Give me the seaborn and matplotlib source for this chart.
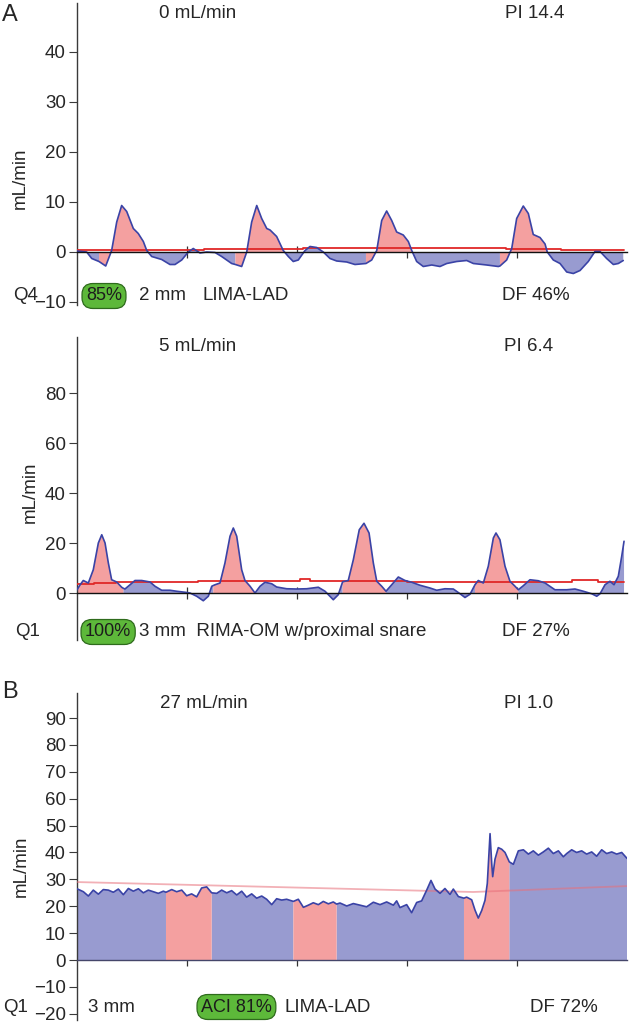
import numpy as np
import seaborn as sns
import matplotlib.pyplot as plt

# ---- panel A (top): LIMA-LAD, Q4 ----
t_a1 = [0.0, 0.088, 0.134, 0.2, 0.261, 0.315, 0.361, 0.406, 0.452, 0.512, 0.557, 0.603, 0.634,
        0.679, 0.77, 0.845, 0.891, 0.952, 1.012, 1.057, 1.118, 1.179, 1.255, 1.315, 1.406, 1.44,
        1.497, 1.543, 1.588, 1.634, 1.679, 1.725, 1.755, 1.815, 1.875,
        1.921, 1.966, 2.012, 2.073, 2.118, 2.179, 2.239, 2.3, 2.361, 2.452, 2.527, 2.627,
        2.679, 2.725, 2.77, 2.815, 2.861, 2.906, 2.966, 3.012, 3.043,
        3.088, 3.148, 3.225, 3.3, 3.361, 3.452, 3.543, 3.603, 3.725, 3.83, 3.845,
        3.906, 3.952, 3.997, 4.057, 4.103, 4.148, 4.209, 4.255, 4.275,
        4.33, 4.391, 4.452, 4.512, 4.573, 4.648, 4.709, 4.755, 4.815, 4.876, 4.921, 4.966]
v_a1 = [0.2, 0.0, -1.3, -1.9, -2.8, 0.3, 6.0, 9.3, 8.1, 4.7, 3.7, 2.1, 0.3,
        -0.9, -1.5, -2.5, -2.5, -1.6, 0.0, 0.7, -0.2, 0.0, -0.1, -0.9, -2.3, -2.5,
        -2.9, 0.0, 6.0, 9.3, 6.7, 4.7, 4.4, 3.1, 0.3,
        -0.9, -1.9, -1.6, 0.3, 1.1, 0.9, 0.0, -1.3, -1.8, -2.0, -2.5, -2.3,
        -1.6, 0.3, 6.3, 8.2, 6.3, 4.0, 3.4, 2.1, 0.3,
        -1.9, -2.9, -2.6, -2.9, -2.3, -1.9, -1.7, -2.3, -2.6, -2.9, -2.8,
        -1.6, 0.7, 6.7, 9.2, 7.7, 3.5, 2.9, 1.6, 0.0,
        -1.6, -2.3, -4.0, -4.3, -3.7, -1.9, 0.1, 0.1, -1.3, -2.5, -2.3, -1.7]
systole_a1 = [(0.2, 0.634), (1.44, 1.875), (2.627, 3.043), (3.845, 4.275)]
mean_t_a1 = [0.0, 1.15, 2.05, 2.7, 3.9, 4.4, 4.97]
mean_v_a1 = [0.4, 0.7, 0.9, 0.8, 0.6, 0.5, 0.5]

# ---- panel A (bottom): RIMA-OM w/proximal snare, Q1 ----
t_a2 = [0.0, 0.027, 0.057, 0.103, 0.148, 0.194, 0.225, 0.255, 0.285, 0.315, 0.361, 0.406, 0.421,
        0.436, 0.482, 0.527, 0.588, 0.664, 0.709, 0.77, 0.845, 0.906, 0.982, 1.027, 1.088, 1.148,
        1.194, 1.225, 1.239,
        1.255, 1.3, 1.345, 1.391, 1.421, 1.452, 1.497, 1.527, 1.573, 1.618,
        1.664, 1.709, 1.77, 1.815, 1.906, 1.997, 2.088, 2.194, 2.255, 2.33, 2.375, 2.415,
        2.466, 2.512, 2.566, 2.609, 2.655, 2.694, 2.725, 2.77, 2.809,
        2.861, 2.921, 2.982, 3.043, 3.118, 3.209, 3.27, 3.345, 3.421, 3.482, 3.527, 3.573, 3.618,
        3.648, 3.694, 3.739, 3.785, 3.809, 3.845, 3.891, 3.936, 3.982, 4.012,
        4.057, 4.118, 4.194, 4.255, 4.345, 4.452, 4.527, 4.603, 4.679, 4.725, 4.755, 4.8, 4.845,
        4.882, 4.921, 4.952, 4.973]
v_a2 = [1.3, 3.2, 5.0, 4.0, 9.3, 20.0, 23.3, 20.0, 12.0, 5.3, 4.4, 2.3, 1.9,
        1.6, 3.3, 5.0, 5.0, 4.4, 2.7, 1.1, 1.1, 0.7, 0.3, 0.0, -1.3, -3.1,
        -1.3, 2.7, 3.0,
        3.3, 4.0, 12.0, 22.7, 26.0, 22.7, 9.3, 5.0, 2.7, 0.0,
        2.7, 4.3, 3.7, 2.4, 1.7, 1.6, 1.7, 2.3, 0.7, -2.7, -0.7, 4.5,
        5.0, 13.3, 25.3, 27.9, 24.0, 12.0, 4.7, 2.7, 0.7,
        3.3, 6.4, 5.0, 4.3, 3.1, 2.0, 1.1, 1.7, 1.6, -0.3, -1.8, -0.5, 3.3,
        5.0, 4.0, 10.7, 22.0, 24.0, 21.3, 10.7, 4.7, 2.7, 1.3,
        2.9, 5.3, 4.9, 4.0, 1.3, 1.3, 1.6, 0.7, -0.3, -1.3, -0.3, 3.3, 4.7,
        3.3, 6.7, 14.7, 20.7]
systole_a2 = [(0.0, 0.421), (1.239, 1.618), (2.415, 2.809), (3.618, 4.012)]
mean_t_a2 = [0.0, 0.15, 0.35, 1.1, 2.03, 2.12, 3.0, 4.5, 4.74, 4.97]
mean_v_a2 = [3.6, 4.0, 4.4, 5.0, 5.8, 5.0, 4.6, 5.2, 4.4, 4.4]

# ---- panel B: LIMA-LAD, ACI 81% ----
t_b = [0.0, 0.058, 0.103, 0.148, 0.194, 0.239, 0.285, 0.33, 0.376, 0.421, 0.467, 0.512, 0.558,
       0.603, 0.648, 0.694, 0.739, 0.785, 0.809,
       0.861, 0.906, 0.952, 0.997, 1.042, 1.088, 1.133, 1.179, 1.224,
       1.27, 1.315, 1.361, 1.406, 1.452, 1.497, 1.542, 1.588, 1.633, 1.679, 1.724, 1.77, 1.815,
       1.861, 1.906, 1.967,
       2.012, 2.058, 2.103, 2.148, 2.194, 2.239, 2.285, 2.33, 2.36,
       2.391, 2.452, 2.512, 2.573, 2.633, 2.694, 2.755, 2.815, 2.876, 2.906, 2.936, 2.997, 3.042,
       3.088, 3.133, 3.179, 3.218, 3.255, 3.3, 3.345, 3.391, 3.421, 3.467, 3.518,
       3.542, 3.588, 3.618, 3.648, 3.679, 3.709, 3.73, 3.755, 3.77, 3.779, 3.8, 3.83, 3.861,
       3.891, 3.93,
       3.967, 4.012, 4.058, 4.103, 4.148, 4.194, 4.239, 4.285, 4.33, 4.376, 4.421, 4.452, 4.497,
       4.542, 4.588, 4.633, 4.679, 4.724, 4.77, 4.815, 4.861, 4.906, 4.952, 5.0]
v_b = [26.5, 25.4, 23.8, 26.0, 24.5, 26.2, 26.0, 25.2, 26.4, 24.3, 26.6, 25.6, 26.5,
       25.0, 26.0, 25.4, 24.8, 25.6, 25.2,
       26.2, 25.4, 26.0, 23.9, 24.6, 23.5, 26.8, 27.2, 25.0,
       24.8, 26.0, 25.0, 25.8, 24.2, 25.6, 23.4, 24.6, 23.0, 23.8, 22.6, 20.6, 22.8,
       22.3, 22.6, 21.8,
       22.6, 19.6, 20.4, 21.3, 20.6, 21.8, 20.9, 21.6, 20.8,
       21.2, 20.1, 21.0, 20.4, 19.8, 21.5, 20.6, 21.6, 20.4, 22.0, 19.5, 20.6, 17.6,
       21.4, 22.0, 26.0, 29.6, 26.4, 24.8, 26.6, 24.4, 26.4, 23.6, 23.0,
       23.4, 22.4, 18.6, 15.6, 18.4, 22.2, 28.5, 47.0, 36.0, 31.0, 37.5, 41.8, 41.2,
       40.0, 36.5,
       35.6, 40.6, 41.0, 39.4, 40.6, 39.0, 40.2, 41.6, 39.6, 40.6, 38.4, 39.6, 41.0,
       40.0, 40.6, 39.4, 40.2, 38.6, 41.0, 39.6, 40.2, 39.4, 40.0, 37.8]
systole_b = [(0.809, 1.224), (1.967, 2.36), (3.518, 3.93)]
mean_t_b = [0.0, 3.6, 5.0]
mean_v_b = [29.0, 25.3, 27.5]

PINK = '#F4A0A0'
BLUE = '#989BD0'
TRACE = '#3A43A6'
W, H = 634, 1023

sns.set_style("white")
plt.rcParams['font.family'] = ['Liberation Sans', 'DejaVu Sans']
plt.rcParams['axes.unicode_minus'] = True

fig = plt.figure(figsize=(W / 100, H / 100), dpi=100)


def ftext(x, y, s, **kw):
    kw.setdefault('fontsize', 13.5)
    kw.setdefault('va', 'center')
    return fig.text(x / W, 1 - y / H, s, **kw)


def badge(x, y, s):
    ftext(x, y, s, ha='left', color='#1c1c1c', fontsize=13,
          bbox=dict(boxstyle='round,pad=0.22,rounding_size=0.6', fc='#5DB83A', ec='#2E6B1C', lw=0.9))


def draw_panel(rect, t, v, spans, mt, mv, ylim, yticks, mean_color, mean_alpha, mean_steps, axis_color):
    ax = fig.add_axes(rect)
    t = np.asarray(t)
    v = np.asarray(v)
    in_sys = np.zeros(len(t), dtype=bool)
    inside = np.zeros(len(t), dtype=bool)
    for a, b in spans:
        in_sys |= (t >= a) & (t <= b)
        inside |= (t > a) & (t < b)
    ax.fill_between(t, v, 0, where=~inside, color=BLUE, lw=0, interpolate=False)
    ax.fill_between(t, v, 0, where=in_sys, color=PINK, lw=0, interpolate=False)
    sns.lineplot(x=mt, y=mv, ax=ax, color=mean_color, alpha=mean_alpha, lw=1.3,
                 drawstyle='steps-post' if mean_steps else 'default', zorder=3)
    sns.lineplot(x=t, y=v, ax=ax, color=TRACE, lw=1.2, sort=False, estimator=None, zorder=4)
    ax.set_xlim(0, 5)
    ax.set_ylim(*ylim)
    ax.set_yticks(yticks)
    ax.set_xticks([1, 2, 3, 4])
    ax.set_xticklabels([])
    ax.set_xlabel('')
    ax.set_ylabel('')
    ax.spines['top'].set_visible(False)
    ax.spines['right'].set_visible(False)
    ax.spines['left'].set_color('#3a3a3a')
    ax.spines['left'].set_linewidth(1.0)
    ax.spines['bottom'].set_position(('data', 0))
    ax.spines['bottom'].set_color(axis_color)
    ax.spines['bottom'].set_linewidth(1.0)
    ax.spines['bottom'].set_zorder(5)
    ax.tick_params(axis='y', direction='out', length=6, width=0.8, color='#3a3a3a',
                   labelsize=13.5, pad=2, left=True)
    ax.tick_params(axis='x', direction='inout', length=9, width=0.9, color='#333333', bottom=True)
    ax.patch.set_alpha(0)
    return ax


draw_panel([77 / W, 1 - 305 / H, 550 / W, 302 / H], t_a1, v_a1, systole_a1,
           mean_t_a1, mean_v_a1, (-10.6, 49.8), [-10, 0, 10, 20, 30, 40],
           '#E02828', 1.0, True, '#111111')
draw_panel([77 / W, 1 - 640 / H, 550 / W, 303 / H], t_a2, v_a2, systole_a2,
           mean_t_a2, mean_v_a2, (-18.8, 102.4), [0, 20, 40, 60, 80],
           '#E02828', 1.0, True, '#111111')
draw_panel([77 / W, 1 - 1020 / H, 550 / W, 327 / H], t_b, v_b, systole_b,
           mean_t_b, mean_v_b, (-22.3, 99.3), list(range(-20, 100, 10)),
           '#E8707A', 0.55, False, '#45466A')

# panel A, top trace labels
ftext(2, 15, 'A', fontsize=17, ha='left')
ftext(198, 14, '0 mL/min', ha='center')
ftext(535, 14, 'PI 14.4', ha='center')
ftext(20, 178, 'mL/min', ha='center', rotation=90)
ftext(13, 296, 'Q4', ha='left')
badge(86, 296, '85%')
ftext(139, 296, '2 mm', ha='left')
ftext(202, 296, 'LIMA-LAD', ha='left')
ftext(502, 296, 'DF 46%', ha='left')

# panel A, bottom trace labels
ftext(198, 347, '5 mL/min', ha='center')
ftext(529, 347, 'PI 6.4', ha='center')
ftext(30, 492, 'mL/min', ha='center', rotation=90)
ftext(15, 632, 'Q1', ha='left')
badge(85, 632, '100%')
ftext(139, 632, '3 mm  RIMA-OM w/proximal snare', ha='left')
ftext(502, 632, 'DF 27%', ha='left')

# panel B labels
ftext(2, 692, 'B', fontsize=17, ha='left')
ftext(204, 704, '27 mL/min', ha='center')
ftext(529, 704, 'PI 1.0', ha='center')
ftext(21, 866, 'mL/min', ha='center', rotation=90)
ftext(3, 1007, 'Q1', ha='left')
ftext(88, 1007, '3 mm', ha='left')
badge(201, 1007, 'ACI 81%')
ftext(285, 1007, 'LIMA-LAD', ha='left')
ftext(530, 1007, 'DF 72%', ha='left')

fig.savefig('out.png', dpi=100)
